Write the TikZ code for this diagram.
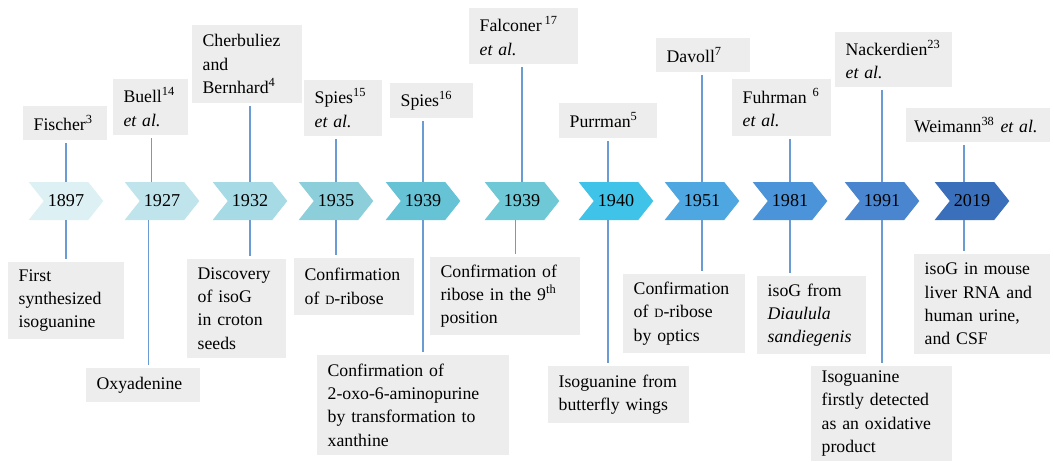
\documentclass[tikz,border=0pt]{standalone}
\usepackage{fontspec}
\setmainfont{Liberation Serif}
\usepackage{tikz}
\usepackage{xcolor}
\usetikzlibrary{shapes.symbols}

\definecolor{boxgray}{HTML}{EDEDED}
\definecolor{stemblue}{HTML}{6A9BD3}
\definecolor{yca}{HTML}{DDF0F3}
\definecolor{ycb}{HTML}{BFE4EB}
\definecolor{ycc}{HTML}{A6DAE4}
\definecolor{ycd}{HTML}{8CCFDB}
\definecolor{yce}{HTML}{66C3D6}
\definecolor{ycf}{HTML}{6FC8D5}
\definecolor{ycg}{HTML}{3FC3E9}
\definecolor{ych}{HTML}{4EA7E0}
\definecolor{yci}{HTML}{4B94D9}
\definecolor{ycj}{HTML}{4A86D0}
\definecolor{yck}{HTML}{3A70BB}

\begin{document}
\begin{tikzpicture}[x=0.75pt,y=-0.75pt,
  yr/.style={shape=signal,signal to=east,signal from=west,
    signal pointer angle=103,minimum width=56pt,minimum height=28.5pt,
    inner sep=0pt,font=\fontsize{13.6}{16}\selectfont},
  info/.style={fill=boxgray,align=left,inner xsep=8pt,inner ysep=0pt,
    font=\fontsize{13.3}{17.5}\selectfont},
  stem/.style={draw=stemblue,line width=0.9pt,shorten >=2pt}]
  \useasboundingbox (0,0) rectangle (1054,461);

  \node (y1897) [yr,fill=yca] at (66,201) {1897};
  \node (y1927) [yr,fill=ycb] at (162,201) {1927};
  \node (y1932) [yr,fill=ycc] at (250,201) {1932};
  \node (y1935) [yr,fill=ycd] at (336,201) {1935};
  \node (y1939) [yr,fill=yce] at (423,201) {1939};
  \node (y1939b) [yr,fill=ycf] at (522,201) {1939};
  \node (y1940) [yr,fill=ycg] at (616,201) {1940};
  \node (y1951) [yr,fill=ych] at (702,201) {1951};
  \node (y1981) [yr,fill=yci] at (790,201) {1981};
  \node (y1991) [yr,fill=ycj] at (882,201) {1991};
  \node (y2019) [yr,fill=yck] at (972,201) {2019};

  \node (fi) [info,text width=47pt,minimum height=25.5pt] at (65,123)
    {Fischer\textsuperscript{3}};
  \node (bu) [info,text width=40.5pt,minimum height=42pt] at (150.5,107)
    {Buell\textsuperscript{14}\\\textit{et al.}};
  \node (cb) [info,text width=66.5pt,minimum height=58.5pt] at (247,64)
    {Cherbuliez\\and\\Bernhard\textsuperscript{4}};
  \node (sp) [info,text width=42.5pt,minimum height=42pt] at (343,108)
    {Spies\textsuperscript{15}\\\textit{et al.}};
  \node (ss) [info,text width=46.25pt,minimum height=26.25pt] at (431.5,100.5)
    {Spies\textsuperscript{16}};
  \node (fa) [info,text width=65.75pt,minimum height=42pt] at (523.5,36)
    {Falconer\,\textsuperscript{17}\\\textit{et al.}};
  \node (pu) [info,text width=57.5pt,minimum height=26.25pt] at (608,120.5)
    {Purrman\textsuperscript{5}};
  \node (dv) [info,text width=54.5pt,minimum height=25.5pt] at (703,55)
    {Davoll\textsuperscript{7}};
  \node (fu) [info,text width=58.25pt,minimum height=42.75pt] at (781.5,107.5)
    {Fuhrman \textsuperscript{6}\\\textit{et al.}};
  \node (nk) [info,text width=71.75pt,minimum height=41.25pt] at (893.5,59.5)
    {Nackerdien\textsuperscript{23}\\\textit{et al.}};
  \node (we) [info,text width=96pt,inner xsep=6pt,minimum height=25.5pt] at (978,125)
    {Weimann\textsuperscript{38} \textit{et al.}};

  \node (fs) [info,text width=71pt,minimum height=57.75pt] at (66,300.5)
    {First\\synthesized\\isoguanine};
  \node (ox) [info,text width=69.5pt,minimum height=25.5pt] at (143,385)
    {Oxyadenine};
  \node (di) [info,text width=58.25pt,minimum height=74.25pt] at (236.5,308.5)
    {Discovery\\of isoG\\in croton\\seeds};
  \node (cr) [info,text width=74pt,minimum height=42.75pt] at (354,286.5)
    {Confirmation\\of {\fontsize{9.5}{10}\selectfont D}-ribose};
  \node (ca) [info,text width=128pt,minimum height=75pt] at (413,405)
    {Confirmation of\\2-oxo-6-aminopurine\\by transformation to\\xanthine};
  \node (rn) [info,text width=96.5pt,minimum height=58.5pt] at (505,296)
    {Confirmation of\\ribose in the 9\textsuperscript{th}\\position};
  \node (bw) [info,text width=89.75pt,minimum height=42.75pt] at (618.5,394.5)
    {Isoguanine from\\butterfly wings};
  \node (co) [info,text width=75.5pt,minimum height=59.25pt] at (684,313.5)
    {Confirmation\\of {\fontsize{9.5}{10}\selectfont D}-ribose\\by optics};
  \node (dd) [info,text width=65.75pt,minimum height=58.5pt] at (811.5,315)
    {isoG from\\\textit{Diaulula}\\\textit{sandiegenis}};
  \node (od) [info,text width=89.75pt,minimum height=71.25pt] at (881.5,413.5)
    {Isoguanine\\firstly detected\\as an oxidative\\product};
  \node (mu) [info,text width=86pt,minimum height=75pt] at (982,304)
    {isoG in mouse\\liver RNA and\\human urine,\\and CSF};

  \draw[stem] (y1897.north) -- (y1897.north |- fi.south);
  \draw[stem] ([xshift=-8pt]y1927.north) -- ([xshift=-8pt]y1927.north |- bu.south);
  \draw[stem] (y1932.north) -- (y1932.north |- cb.south);
  \draw[stem] (y1935.north) -- (y1935.north |- sp.south);
  \draw[stem] (y1939.north) -- (y1939.north |- ss.south);
  \draw[stem] (y1939b.north) -- (y1939b.north |- fa.south);
  \draw[stem] ([xshift=-6pt]y1940.north) -- ([xshift=-6pt]y1940.north |- pu.south);
  \draw[stem] (y1951.north) -- (y1951.north |- dv.south);
  \draw[stem] (y1981.north) -- (y1981.north |- fu.south);
  \draw[stem] (y1991.north) -- (y1991.north |- nk.south);
  \draw[stem] ([xshift=-6pt]y2019.north) -- ([xshift=-6pt]y2019.north |- we.south);

  \draw[stem] (y1897.south) -- (y1897.south |- fs.north);
  \draw[stem] ([xshift=-10pt]y1927.south) -- ([xshift=-10pt]y1927.south |- ox.north);
  \draw[stem] (y1932.south) -- (y1932.south |- di.north);
  \draw[stem] (y1935.south) -- (y1935.south |- cr.north);
  \draw[stem] (y1939.south) -- (y1939.south |- ca.north);
  \draw[stem] ([xshift=-5pt]y1939b.south) -- ([xshift=-5pt]y1939b.south |- rn.north);
  \draw[stem] ([xshift=-6pt]y1940.south) -- ([xshift=-6pt]y1940.south |- bw.north);
  \draw[stem] (y1951.south) -- (y1951.south |- co.north);
  \draw[stem] (y1981.south) -- (y1981.south |- dd.north);
  \draw[stem] (y1991.south) -- (y1991.south |- od.north);
  \draw[stem] ([xshift=-6pt]y2019.south) -- ([xshift=-6pt]y2019.south |- mu.north);
\end{tikzpicture}
\end{document}
